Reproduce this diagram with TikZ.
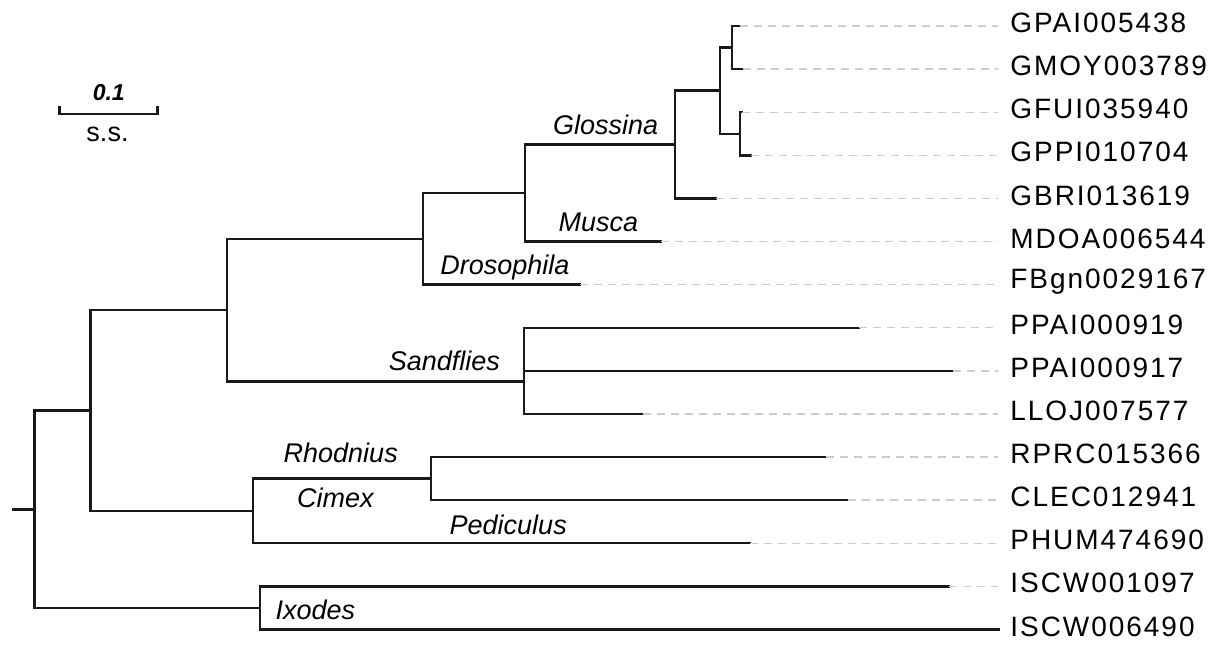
\documentclass[tikz,border=0pt]{standalone}
\usepackage{fontspec}
\setmainfont{Liberation Sans}
\newfontfamily\tipfont[LetterSpace=7]{Liberation Sans}
\begin{document}
\begin{tikzpicture}[x=0.5pt,y=-0.5pt,
  br/.style={line width=1.2pt, color=black!90, line cap=rect},
  guide/.style={line width=0.7pt, color=gray!40, dash pattern=on 4pt off 3pt, shorten >=6pt},
  tiplab/.style={anchor=west, inner sep=0pt, font={\tipfont\fontsize{14pt}{16pt}\selectfont}},
  clade/.style={anchor=base west, inner sep=0pt, font=\itshape\fontsize{13.5pt}{15pt}\selectfont}]
\useasboundingbox (0,0) rectangle (1226,644);
% tip ends
\coordinate (t0) at (740,26.0);
\coordinate (t1) at (742.7,69.1);
\coordinate (t2) at (742,112.2);
\coordinate (t3) at (750.7,155.3);
\coordinate (t4) at (716,198.4);
\coordinate (t5) at (660.7,241.5);
\coordinate (t6) at (580,284.6);
\coordinate (t7) at (858.7,327.7);
\coordinate (t8) at (953.3,370.8);
\coordinate (t9) at (643,413.9);
\coordinate (t10) at (826,457.0);
\coordinate (t11) at (847.5,500.1);
\coordinate (t12) at (750,543.2);
\coordinate (t13) at (948.5,586.3);
\coordinate (t14) at (998.5,629.4);
% internal nodes
\coordinate (na) at (732,47.5);
\coordinate (nb) at (740,133.7);
\coordinate (nc) at (720,90.6);
\coordinate (ngl) at (674.7,144.5);
\coordinate (ngm) at (525,193.0);
\coordinate (ngmd) at (423.2,238.8);
\coordinate (nsp) at (523.7,349.2);
\coordinate (nsf) at (523.7,381.6);
\coordinate (ndip) at (226.8,310.2);
\coordinate (nrc) at (430.7,478.6);
\coordinate (nrcp) at (252.7,510.9);
\coordinate (nins) at (90.6,410.6);
\coordinate (nix) at (259.7,607.9);
\coordinate (nroot) at (34.5,509.3);
\coordinate (stem) at (12.7,509.3);
% branches
\draw[br] (stem) -- (nroot);
\draw[br] (nroot) |- (nins);
\draw[br] (nroot) |- (nix);
\draw[br] (nix) |- (t13);
\draw[br] (nix) |- (t14);
\draw[br] (nins) |- (ndip);
\draw[br] (nins) |- (nrcp);
\draw[br] (nrcp) |- (nrc);
\draw[br] (nrcp) |- (t12);
\draw[br] (nrc) |- (t10);
\draw[br] (nrc) |- (t11);
\draw[br] (ndip) |- (ngmd);
\draw[br] (ndip) |- (nsf);
\draw[br] (nsf) |- (nsp);
\draw[br] (nsf) |- (t9);
\draw[br] (nsp) |- (t7);
\draw[br] (nsp) |- (t8);
\draw[br] (ngmd) |- (ngm);
\draw[br] (ngmd) |- (t6);
\draw[br] (ngm) |- (ngl);
\draw[br] (ngm) |- (t5);
\draw[br] (ngl) |- (nc);
\draw[br] (ngl) |- (t4);
\draw[br] (nc) |- (na);
\draw[br] (nc) |- (nb);
\draw[br] (na) |- (t0);
\draw[br] (na) |- (t1);
\draw[br] (nb) |- (t2);
\draw[br] (nb) |- (t3);
% tip labels
\node[tiplab] (l0) at (1010,23.0) {GPAI005438};
\node[tiplab] (l1) at (1010,66.1) {GMOY003789};
\node[tiplab] (l2) at (1010,109.2) {GFUI035940};
\node[tiplab] (l3) at (1010,152.3) {GPPI010704};
\node[tiplab] (l4) at (1010,195.4) {GBRI013619};
\node[tiplab] (l5) at (1010,238.5) {MDOA006544};
\node[tiplab] (l6) at (1010,281.6) {FBgn0029167};
\node[tiplab] (l7) at (1010,324.7) {PPAI000919};
\node[tiplab] (l8) at (1010,367.8) {PPAI000917};
\node[tiplab] (l9) at (1010,410.9) {LLOJ007577};
\node[tiplab] (l10) at (1010,454.0) {RPRC015366};
\node[tiplab] (l11) at (1010,497.1) {CLEC012941};
\node[tiplab] (l12) at (1010,540.2) {PHUM474690};
\node[tiplab] (l13) at (1010,583.3) {ISCW001097};
\node[tiplab] (l14) at (1010,626.4) {ISCW006490};
% guides
\foreach \i in {0,...,13}{
  \draw[guide] (t\i) -- (t\i -| l\i.west);
}
% clade labels
\node[clade] (cGlossina) at (552.7,134.3) {Glossina};
\node[clade] (cMusca) at (558.3,231.7) {Musca};
\node[clade] (cDros) at (440,274) {Drosophila};
\node[clade] (cSand) at (388.4,370.7) {Sandflies};
\node[clade] (cRhod) at (283.3,462.7) {Rhodnius};
\node[clade] (cCimex) at (296.7,507.3) {Cimex};
\node[clade] (cPed) at (449.3,534.3) {Pediculus};
\node[clade] (cIxo) at (275.3,619.3) {Ixodes};
% scale bar
\coordinate (sbl) at (59.3,114);
\coordinate (sbr) at (157.3,114);
\coordinate (sblt) at (59.3,106);
\coordinate (sbrt) at (157.3,106);
\draw[br, line cap=butt, line join=miter] (sblt) -- (sbl) -- (sbr) -- (sbrt);
\node[anchor=base, inner sep=0pt, font=\bfseries\itshape\fontsize{11.5pt}{13pt}\selectfont] (sbval) at (108.8,100.7) {0.1};
\node[anchor=base, inner sep=0pt, font=\fontsize{13.5pt}{15pt}\selectfont] (sbunit) at (107.5,141) {s.s.};
\end{tikzpicture}
\end{document}
